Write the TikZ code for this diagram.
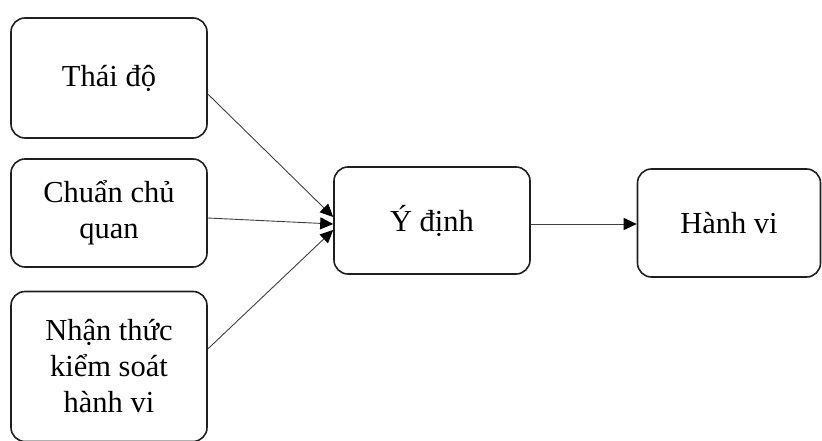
\documentclass[tikz,border=0pt]{standalone}
\usepackage{fontspec}
\setmainfont{Liberation Serif}
\usetikzlibrary{arrows.meta}
\begin{document}
\begin{tikzpicture}[x=1pt,y=-1pt,
  boxnode/.style={draw=black!88, line width=1.6pt, rounded corners=14pt, align=center,
    font=\fontsize{30.5}{36}\selectfont, inner sep=0pt},
  arr/.style={draw=black!75, line width=0.9pt, -{Triangle[length=13pt,width=12pt,color=black]}}]
\useasboundingbox (0,0) rectangle (822,441);
\node[boxnode, minimum width=196pt, minimum height=120pt] (b1) at (109,78) {Thái độ};
\node[boxnode, minimum width=196pt, minimum height=108pt] (b2) at (109,213) {Chuẩn chủ\\quan};
\node[boxnode, minimum width=196pt, minimum height=150pt] (b3) at (109,366.5) {Nhận thức\\kiểm soát\\hành vi};
\node[boxnode, minimum width=196pt, minimum height=107pt] (yd) at (432,220.5) {Ý định};
\node[boxnode, minimum width=183pt, minimum height=108pt] (hv) at (729,223) {Hành vi};
\draw[arr] ([yshift=-16pt]b1.east) -- ([yshift=3.5pt]yd.west);
\draw[arr] ([yshift=-5pt]b2.east) -- ([yshift=-3.5pt]yd.west);
\draw[arr] ([yshift=17.5pt]b3.east) -- ([yshift=-9.5pt]yd.west);
\draw[arr] ([yshift=-3.5pt]yd.east) -- ([yshift=-1pt]hv.west);
\end{tikzpicture}
\end{document}
